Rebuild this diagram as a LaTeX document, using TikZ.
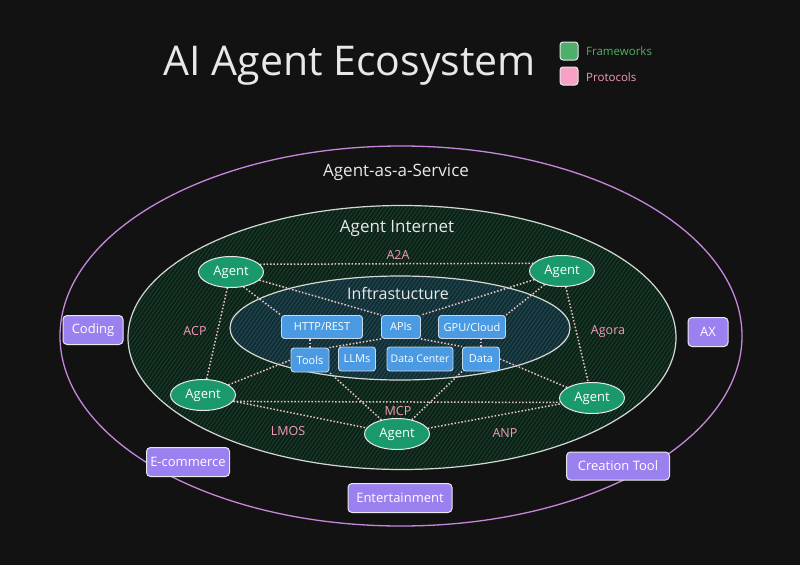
\documentclass[tikz,border=0pt]{standalone}
\usepackage{fontspec}
\setmainfont{Open Sans}
\usetikzlibrary{patterns.meta,shapes.geometric}
\definecolor{bgc}{HTML}{121212}
\definecolor{txt}{HTML}{E8E8E8}
\definecolor{outerline}{HTML}{C586DC}
\definecolor{netfill}{HTML}{0D2017}
\definecolor{nethatch}{HTML}{1A412B}
\definecolor{infrafill}{HTML}{122C33}
\definecolor{infrahatch}{HTML}{224C55}
\definecolor{ringline}{HTML}{D4D8D4}
\definecolor{agentg}{HTML}{1A9A6C}
\definecolor{bluebox}{HTML}{4A9BE3}
\definecolor{purplebox}{HTML}{9B80F0}
\definecolor{protopink}{HTML}{F59BB8}
\definecolor{connc}{HTML}{EBC3C3}
\definecolor{leggreen}{HTML}{4CAF6A}
\definecolor{leggreentxt}{HTML}{52B060}
\definecolor{legpink}{HTML}{F7A1C6}
\pgfdeclarelayer{canvas}
\pgfdeclarelayer{back}
\pgfsetlayers{canvas,back,main}
\begin{document}
\begin{tikzpicture}[x=1pt,y=-1pt,
  agent/.style={ellipse,fill=agentg,draw=txt,line width=1pt,minimum width=65pt,minimum height=31pt,inner sep=0pt,text=white,font=\fontsize{13}{15}\selectfont},
  bluebx/.style={rectangle,rounded corners=3pt,fill=bluebox,draw=txt!80!bluebox,line width=0.9pt,minimum height=23pt,inner sep=2pt,text=white,font=\fontsize{11}{13}\selectfont},
  purplebx/.style={rectangle,rounded corners=4pt,fill=purplebox,draw=txt,line width=1pt,minimum height=29pt,inner sep=3pt,text=white,font=\fontsize{13}{15}\selectfont},
  proto/.style={text=protopink,font=\fontsize{12.5}{14}\selectfont,inner sep=1pt},
  region/.style={text=txt,font=\fontsize{17}{19}\selectfont,inner sep=1pt},
  conn/.style={draw=connc,line width=1.5pt,dash pattern=on 1.5pt off 1.9pt},
  legbox/.style={rectangle,rounded corners=3pt,draw=txt,line width=1pt,minimum width=18pt,minimum height=18pt,inner sep=0pt},
  legtxt/.style={anchor=west,inner sep=0pt,font=\fontsize{11.5}{13}\selectfont},
  hatch/.style={pattern={Lines[angle=55,distance=3.2pt,line width=0.9pt]}}
]
\begin{pgfonlayer}{canvas}
\fill[bgc] (0,0) rectangle (800,565);
\end{pgfonlayer}
\useasboundingbox (0,0) rectangle (800,565);

\begin{pgfonlayer}{back}
% outer ring
\draw[outerline,line width=1.3pt] (401,336) ellipse [x radius=341pt, y radius=190pt];
% agent internet
\fill[netfill] (402,337.5) ellipse [x radius=274pt, y radius=132pt];
\fill[hatch,pattern color=nethatch] (402,337.5) ellipse [x radius=274pt, y radius=132pt];
\draw[ringline,line width=1.2pt] (402,337.5) ellipse [x radius=274pt, y radius=132pt];
% infrastructure
\fill[infrafill] (400,328) ellipse [x radius=170pt, y radius=52pt];
\fill[hatch,pattern color=infrahatch] (400,328) ellipse [x radius=170pt, y radius=52pt];
\draw[ringline,line width=1.2pt] (400,328) ellipse [x radius=170pt, y radius=52pt];
\end{pgfonlayer}

% title and legend
\node[anchor=base,text=txt,font=\fontsize{41}{44}\selectfont,inner sep=0pt] (title) at (350,75) {AI Agent Ecosystem};
\node[legbox,fill=leggreen] (lg1) at (569,51) {};
\node[legbox,fill=legpink] (lg2) at (569,76) {};
\node[legtxt,text=leggreentxt] (lt1) at (586,51) {Frameworks};
\node[legtxt,text=protopink] (lt2) at (586,77) {Protocols};

% region titles
\node[region] (aas) at (396,172) {Agent-as-a-Service};
\node[region] (ai) at (397,228) {Agent Internet};
\node[region,font=\fontsize{16}{18}\selectfont] (inf) at (398,293) {Inftrastucture};

% agents
\node[agent] (tl) at (231,272) {Agent};
\node[agent] (tr) at (562,271) {Agent};
\node[agent] (l) at (203,395) {Agent};
\node[agent] (r) at (592,398) {Agent};
\node[agent] (b) at (397,434) {Agent};

% infrastructure boxes
\node[bluebx,minimum width=81pt] (http) at (322,327) {HTTP/REST};
\node[bluebx,minimum width=39pt] (api) at (401,327) {APIs};
\node[bluebx,minimum width=67pt] (gpu) at (472,327) {GPU/Cloud};
\node[bluebx,minimum width=38pt,minimum height=24pt] (tools) at (310,360) {Tools};
\node[bluebx,minimum width=37pt,minimum height=24pt] (llm) at (357,359) {LLMs};
\node[bluebx,minimum width=66pt,minimum height=24pt,font=\fontsize{10.5}{12}\selectfont] (dc) at (420,359) {Data Center};
\node[bluebx,minimum width=37pt,minimum height=24pt] (data) at (481,359) {Data};

% service boxes
\node[purplebx,minimum width=60pt] (coding) at (93,330) {Coding};
\node[purplebx,minimum width=83pt] (ecom) at (188,462) {E-commerce};
\node[purplebx,minimum width=40pt] (ax) at (708,332) {AX};
\node[purplebx,minimum width=103pt,minimum height=28pt] (ct) at (618,466) {Creation Tool};
\node[purplebx,minimum width=104pt] (ent) at (400,498) {Entertainment};

% protocol labels
\node[proto] (a2a) at (398,255) {A2A};
\node[proto] (acp) at (195,331) {ACP};
\node[proto] (agora) at (608,332) {Agora};
\node[proto] (mcp) at (398,411) {MCP};
\node[proto] (lmos) at (288,431) {LMOS};
\node[proto] (anp) at (505,433) {ANP};

% connectors
\begin{pgfonlayer}{back}
\draw[conn] (tl.15) -- (tr.165);
\draw[conn] (tl) -- (l);
\draw[conn] (tr) -- (r);
\draw[conn] (tl.-50) -- (http.north west);
\draw[conn] (tl) -- (api.north west);
\draw[conn] (tr) -- (api.north east);
\draw[conn] (tr) -- (gpu.north east);
\draw[conn] (tools.north) -- (tools.north |- http.south);
\draw[conn] (api.south west) -- (tools.north east);
\draw[conn] (api.south east) -- (data.north west);
\draw[conn] (data.north) -- (data.north |- gpu.south);
\draw[conn] (l) -- (tools.west);
\draw[conn] (data.east) -- (r);
\draw[conn] (l.-12) -- (r.188);
\draw[conn] (l) -- (b);
\draw[conn] (b) -- (r);
\draw[conn] (b) -- (tools.south east);
\draw[conn] (b) -- (data.south west);
\end{pgfonlayer}
\end{tikzpicture}
\end{document}
